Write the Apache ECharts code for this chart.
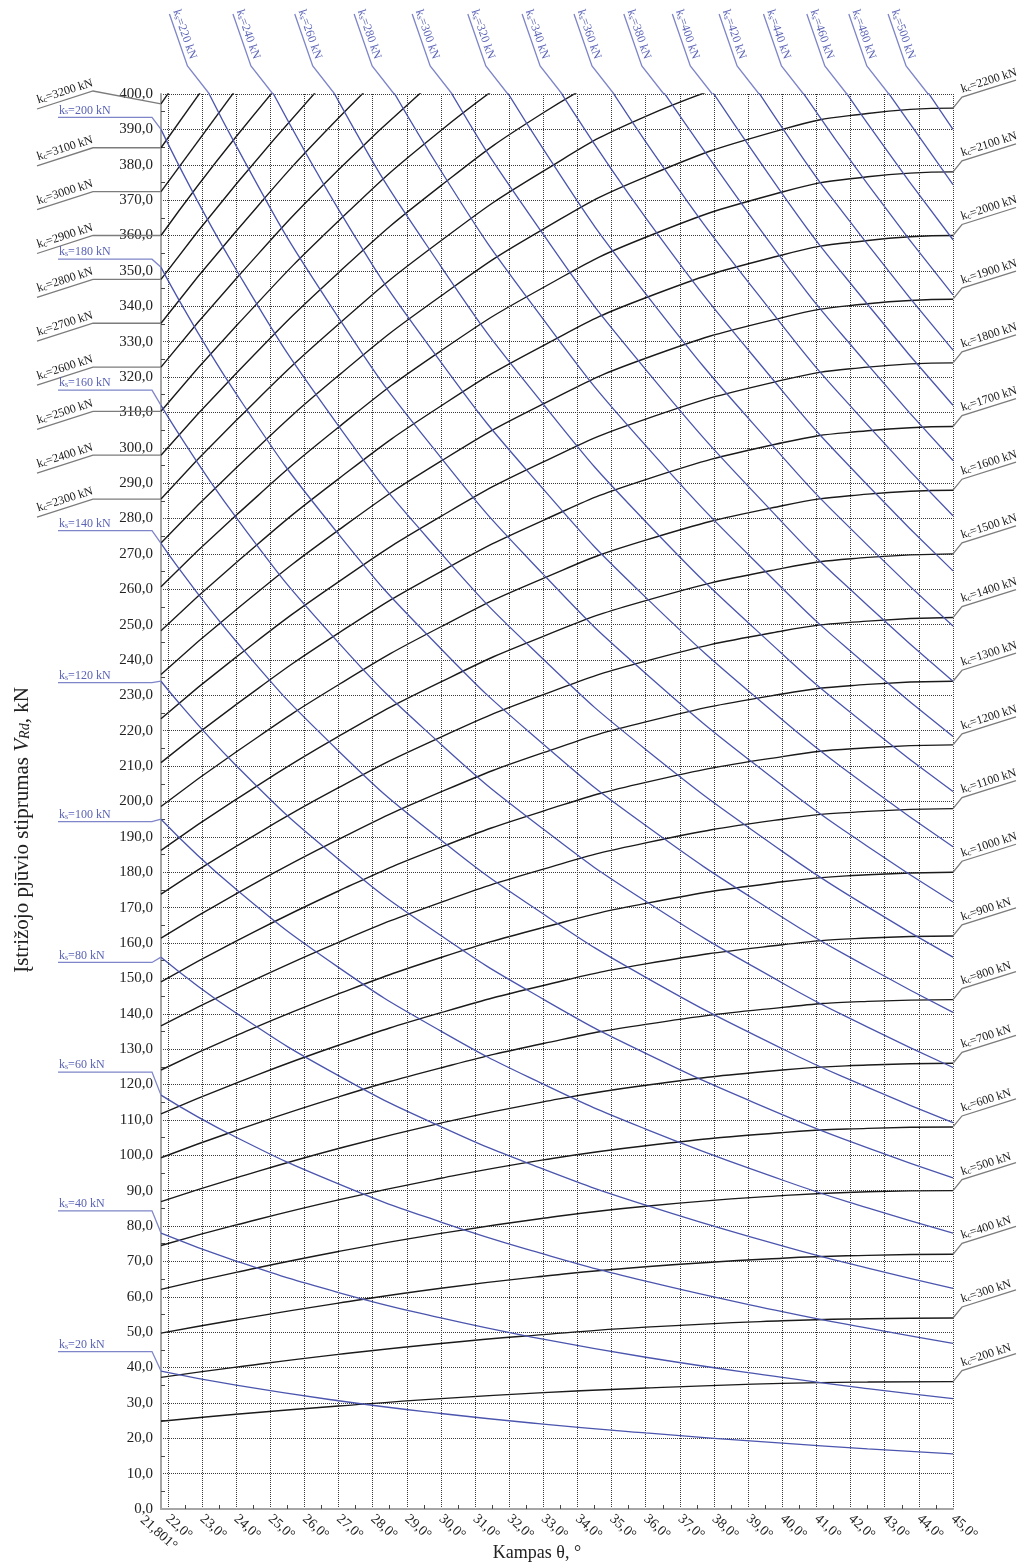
<!DOCTYPE html>
<html>
<head>
<meta charset="utf-8">
<script src="https://cdn.jsdelivr.net/npm/echarts@6/dist/echarts.min.js"></script>
<style>
  html, body { margin: 0; padding: 0; background: #fff; }
  #chart { width: 1022px; height: 1565px; }
</style>
</head>
<body>
<div id="chart"></div>
<script>
// kampas θ, kuriame nuskaitytos kreivių reikšmės
const thetaPts = [21.801, 24, 27, 30, 33, 36, 40, 42.5, 45]

// juodos kreivės (k_c, kN)
const kcValues = [200, 300, 400, 500, 600, 700, 800, 900, 1000, 1100, 1200, 1300, 1400, 1500, 1600,
  1700, 1800, 1900, 2000, 2100, 2200, 2300, 2400, 2500, 2600, 2700, 2800, 2900, 3000, 3100, 3200]
const vcCurves = [
  [24.8, 26.8, 29.1, 31.2, 32.9, 34.2, 35.5, 35.9, 36.0],
  [37.2, 40.1, 43.7, 46.8, 49.3, 51.4, 53.2, 53.8, 54.0],
  [49.7, 53.5, 58.2, 62.4, 65.8, 68.5, 70.9, 71.7, 72.0],
  [62.1, 66.9, 72.8, 77.9, 82.2, 85.6, 88.6, 89.7, 90.0],
  [74.5, 80.3, 87.4, 93.5, 98.7, 102.7, 106.4, 107.6, 108.0],
  [86.9, 93.6, 101.9, 109.1, 115.1, 119.8, 124.1, 125.5, 126.0],
  [99.3, 107.0, 116.5, 124.7, 131.6, 137.0, 141.8, 143.5, 144.0],
  [111.7, 120.4, 131.1, 140.3, 148.0, 154.1, 159.5, 161.4, 162.0],
  [124.1, 133.8, 145.6, 155.9, 164.4, 171.2, 177.3, 179.3, 180.0],
  [136.6, 147.1, 160.2, 171.5, 180.9, 188.3, 195.0, 197.2, 198.0],
  [149.0, 160.5, 174.7, 187.1, 197.3, 205.4, 212.7, 215.2, 216.0],
  [161.4, 173.9, 189.3, 202.7, 213.8, 222.5, 230.4, 233.1, 234.0],
  [173.8, 187.3, 203.9, 218.2, 230.2, 239.7, 248.2, 251.0, 252.0],
  [186.2, 200.6, 218.4, 233.8, 246.7, 256.8, 265.9, 269.0, 270.0],
  [198.6, 214.0, 233.0, 249.4, 263.1, 273.9, 283.6, 286.9, 288.0],
  [211.0, 227.4, 247.6, 265.0, 279.5, 291.0, 301.4, 304.8, 306.0],
  [223.4, 240.8, 262.1, 280.6, 296.0, 308.1, 319.1, 322.8, 324.0],
  [235.9, 254.2, 276.7, 296.2, 312.4, 325.3, 336.8, 340.7, 342.0],
  [248.3, 267.5, 291.2, 311.8, 328.9, 342.4, 354.5, 358.6, 360.0],
  [260.7, 280.9, 305.8, 327.4, 345.3, 359.5, 372.3, 376.6, 378.0],
  [273.1, 294.3, 320.4, 342.9, 361.8, 376.6, 390.0, 394.5, 396.0],
  [285.5, 307.7, 334.9, 358.5, 378.2, 393.7, 407.7, null, null],
  [297.9, 321.0, 349.5, 374.1, 394.7, 410.9, null, null, null],
  [310.3, 334.4, 364.1, 389.7, 411.1, null, null, null, null],
  [322.8, 347.8, 378.6, 405.3, null, null, null, null, null],
  [335.2, 361.2, 393.2, 420.9, null, null, null, null, null],
  [347.6, 374.5, 407.7, null, null, null, null, null, null],
  [360.0, 387.9, 422.3, null, null, null, null, null, null],
  [372.4, 401.3, null, null, null, null, null, null, null],
  [384.8, 414.7, null, null, null, null, null, null, null],
  [397.2, 428.1, null, null, null, null, null, null, null]
]

// mėlynos kreivės (k_s, kN)
const ksValues = [20, 40, 60, 80, 100, 120, 140, 160, 180, 200, 220, 240, 260, 280, 300,
  320, 340, 360, 380, 400, 420, 440, 460, 480, 500]
const vsCurves = [
  [39.0, 35.0, 30.6, 27.0, 24.0, 21.5, 18.6, 17.0, 15.6],
  [78.0, 70.1, 61.2, 54.0, 48.0, 42.9, 37.2, 34.0, 31.2],
  [117.0, 105.1, 91.9, 81.1, 72.1, 64.4, 55.8, 51.1, 46.8],
  [156.0, 140.2, 122.5, 108.1, 96.1, 85.9, 74.4, 68.1, 62.4],
  [195.0, 175.2, 153.1, 135.1, 120.1, 107.4, 93.0, 85.1, 78.0],
  [234.0, 210.2, 183.7, 162.1, 144.1, 128.8, 111.5, 102.1, 93.6],
  [273.0, 245.3, 214.3, 189.1, 168.2, 150.3, 130.1, 119.2, 109.2],
  [312.0, 280.3, 244.9, 216.2, 192.2, 171.8, 148.7, 136.2, 124.8],
  [351.0, 315.3, 275.6, 243.2, 216.2, 193.2, 167.3, 153.2, 140.4],
  [390.0, 350.4, 306.2, 270.2, 240.2, 214.7, 185.9, 170.2, 156.0],
  [429.0, 385.4, 336.8, 297.2, 264.2, 236.2, 204.5, 187.3, 171.6],
  [null, 420.5, 367.4, 324.2, 288.3, 257.7, 223.1, 204.3, 187.2],
  [null, 455.5, 398.0, 351.3, 312.3, 279.1, 241.7, 221.3, 202.8],
  [null, null, 428.6, 378.3, 336.3, 300.6, 260.3, 238.3, 218.4],
  [null, null, 459.3, 405.3, 360.3, 322.1, 278.9, 255.4, 234.0],
  [null, null, null, 432.3, 384.4, 343.5, 297.5, 272.4, 249.6],
  [null, null, null, null, 408.4, 365.0, 316.1, 289.4, 265.2],
  [null, null, null, null, 432.4, 386.5, 334.6, 306.4, 280.8],
  [null, null, null, null, null, 408.0, 353.2, 323.5, 296.4],
  [null, null, null, null, null, 429.4, 371.8, 340.5, 312.0],
  [null, null, null, null, null, 450.9, 390.4, 357.5, 327.6],
  [null, null, null, null, null, null, 409.0, 374.5, 343.2],
  [null, null, null, null, null, null, 427.6, 391.6, 358.8],
  [null, null, null, null, null, null, null, 408.6, 374.4],
  [null, null, null, null, null, null, null, 425.6, 390.0]
]

const xTicks = [22, 23, 24, 25, 26, 27, 28, 29, 30, 31, 32, 33, 34, 35, 36, 37, 38, 39, 40, 41, 42, 43, 44, 45]
const xMinorTicks = [22.5, 23.5, 24.5, 25.5, 26.5, 27.5, 28.5, 29.5, 30.5, 31.5, 32.5, 33.5, 34.5,
  35.5, 36.5, 37.5, 38.5, 39.5, 40.5, 41.5, 42.5, 43.5, 44.5]

// užrašų prikabinimo vietos
const ksLeftLabelV = [44.5, 84.3, 123.5, 154.5, 194.3, 233.6, 276.6, 316.3, 353.3, 393.4] // k_s 20..200
const ksTopTheta = [23.22, 25.08, 26.89, 28.63, 30.33, 31.96, 33.55, 35.07, 36.53, 37.95, 39.32, 40.62, 41.89, 43.12, 44.27] // k_s 220..500

const serif = '"Liberation Serif", "Times New Roman", serif'
const black = '#1a1a1a'
const blue = '#4b55ae'
const blueLabel = '#5a63b6'
const greyLead = '#7c7c7c'
const blueLead = '#7e85c8'

const toPoints = (row) => thetaPts.map((t, j) => [t, row[j]]).filter((p) => p[1] !== null)
const comma = (v, d) => v.toFixed(d).replace('.', ',')

const chart = echarts.init(document.getElementById('chart'))

const series = []
kcValues.forEach((k, i) => {
  series.push({
    name: 'kc' + k,
    type: 'line',
    xAxisIndex: 0,
    yAxisIndex: 0,
    data: toPoints(vcCurves[i]),
    smooth: true,
    symbol: 'none',
    silent: true,
    lineStyle: { color: black, width: 1.4 },
    z: 3,
  })
})
ksValues.forEach((k, i) => {
  series.push({
    name: 'ks' + k,
    type: 'line',
    xAxisIndex: 0,
    yAxisIndex: 0,
    data: toPoints(vsCurves[i]),
    smooth: true,
    symbol: 'none',
    silent: true,
    lineStyle: { color: blue, width: 1.3 },
    z: 4,
  })
})

const gridRect = { left: 161, right: 69, top: 94, bottom: 56, outerBoundsMode: 'none' }

chart.setOption({
  animation: false,
  backgroundColor: '#fff',
  grid: [gridRect, Object.assign({}, gridRect)],
  xAxis: [
    {
      type: 'value',
      gridIndex: 0,
      min: 21.801,
      max: 45,
      position: 'bottom',
      axisLine: { show: true, lineStyle: { color: '#a6a6a6', width: 2 } },
      axisTick: { show: false, customValues: xTicks },
      axisLabel: {
        customValues: xTicks,
        formatter: (v) => comma(v, 1) + '°',
        rotate: -42,
        margin: 8,
        fontFamily: serif,
        fontSize: 14,
        color: '#222',
      },
      splitLine: { show: true, lineStyle: { type: [1, 1], color: '#3a3a3a', width: 1 } },
    },
    {
      type: 'value',
      gridIndex: 1,
      min: 21.801,
      max: 45,
      position: 'bottom',
      axisLine: { show: false },
      axisTick: { show: true, inside: true, length: 4, customValues: xMinorTicks, lineStyle: { color: '#444', width: 1 } },
      axisLabel: { show: false },
      splitLine: { show: false },
    },
  ],
  yAxis: [
    {
      type: 'value',
      gridIndex: 0,
      min: 0,
      max: 400,
      interval: 10,
      axisLine: { show: true, lineStyle: { color: '#a6a6a6', width: 2 } },
      axisTick: { show: false, inside: true },
      minorTick: { show: true, splitNumber: 2, length: 4, lineStyle: { color: '#444', width: 1 } },
      axisLabel: {
        formatter: (v) => comma(v, 1),
        margin: 8,
        fontFamily: serif,
        fontSize: 15,
        color: '#222',
      },
      splitLine: { show: true, lineStyle: { type: [1, 1], color: '#3a3a3a', width: 1 } },
    },
    { type: 'value', gridIndex: 1, min: 0, max: 400, show: false },
  ],
  series: series,
})

// užrašai ir jų rodyklės
const px = (t, v) => chart.convertToPixel({ gridIndex: 0 }, [t, v])
const [axisX, topY] = px(21.801, 400)

function kText(sub, num, color) {
  return {
    text: '{k|k}{s|' + sub + '}{t|=' + num + ' kN}',
    font: '12px ' + serif,
    fill: color,
    rich: {
      k: { font: '12px ' + serif, fill: color },
      s: { font: '8px ' + serif, fill: color, verticalAlign: 'bottom' },
      t: { font: '12px ' + serif, fill: color },
    },
  }
}

function textEl(x, y, rotation, style, align, vAlign) {
  return {
    type: 'text',
    x: x,
    y: y,
    rotation: rotation,
    silent: true,
    z: 10,
    style: Object.assign(style, {
      align: align, textAlign: align,
      verticalAlign: vAlign, textVerticalAlign: vAlign,
    }),
  }
}

function leader(points, color) {
  return {
    type: 'polyline',
    silent: true,
    z: 9,
    shape: { points: points },
    style: { stroke: color, lineWidth: 1.3, fill: null },
  }
}

const graphic = []
const slope = Math.atan2(17, 54)

kcValues.forEach((k, i) => {
  const pts = toPoints(vcCurves[i])
  if (k >= 2300) {
    // kairėje pusėje
    const cy = px(pts[0][0], pts[0][1])[1]
    const shelfY = k === 3200 ? topY - 3 : cy
    graphic.push(leader([[37, shelfY + 18], [93, shelfY], [axisX, cy]], greyLead))
    graphic.push(textEl(39, shelfY + 15, slope, kText('c', k, black), 'left', 'bottom'))
  } else {
    const last = pts[pts.length - 1]
    const [ex, ey] = px(last[0], last[1])
    graphic.push(leader([[ex, ey], [ex + 9, ey - 11], [ex + 63, ey - 28]], greyLead))
    graphic.push(textEl(ex + 10, ey - 13, slope, kText('c', k, black), 'left', 'bottom'))
  }
})

ksValues.forEach((k, i) => {
  if (k <= 200) {
    const pts = toPoints(vsCurves[i])
    const cy = px(pts[0][0], pts[0][1])[1]
    const uy = px(21.801, ksLeftLabelV[i])[1]
    graphic.push(leader([[58, uy], [152, uy], [axisX, cy]], blueLead))
    graphic.push(textEl(59, uy - 1, 0, kText('s', k, blueLabel), 'left', 'bottom'))
  } else {
    const [cx, cy] = px(ksTopTheta[i - 10], 400)
    graphic.push(leader([[cx, cy], [cx - 22, cy - 28], [cx - 40, cy - 80]], blueLead))
    graphic.push(textEl(cx - 39, cy - 82, -Math.atan2(52, 18), kText('s', k, blueLabel), 'left', 'bottom'))
  }
})

// ašių pavadinimai
graphic.push(textEl(22, 830, Math.PI / 2, {
  text: '{n|Įstrižojo pjūvio stiprumas }{v|V}{r|Rd}{n|, kN}',
  font: '21px ' + serif,
  fill: '#222',
  rich: {
    n: { font: '21px ' + serif, fill: '#222' },
    v: { font: 'italic 21px ' + serif, fill: '#222' },
    r: { font: 'italic 14px ' + serif, fill: '#222', verticalAlign: 'bottom' },
  },
}, 'center', 'middle'))

graphic.push(textEl(537, 1553, 0, {
  text: 'Kampas θ, °',
  font: '18px ' + serif,
  fill: '#222',
}, 'center', 'middle'))

const [minX, axisY] = px(21.801, 0)
graphic.push(textEl(minX - 14, axisY + 4, -42 * Math.PI / 180, {
  text: comma(21.801, 3) + '°',
  font: '14px ' + serif,
  fill: '#222',
}, 'left', 'top'))

chart.setOption({ graphic: graphic })
</script>
</body>
</html>
